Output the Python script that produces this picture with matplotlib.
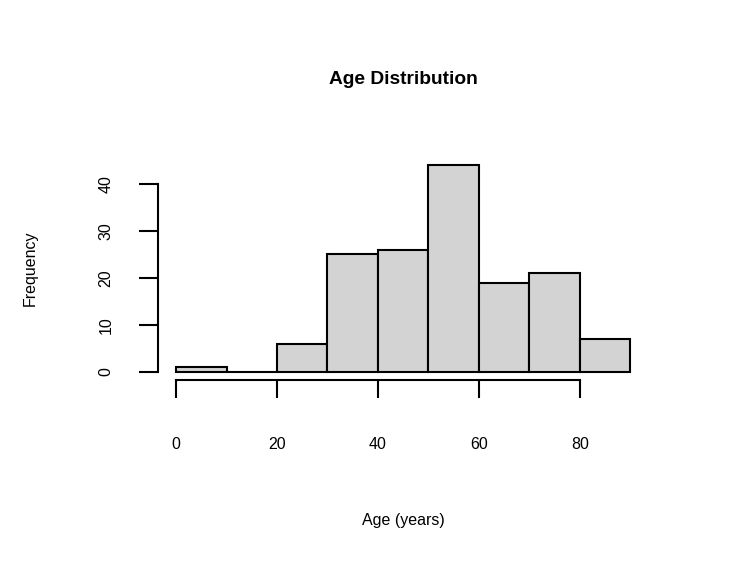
import matplotlib
matplotlib.use("Agg")
import matplotlib.pyplot as plt
import numpy as np

plt.rcParams['font.family'] = ['Liberation Sans', 'DejaVu Sans']

## histogram counts (10-year bins)
bin_edges = [0, 10, 20, 30, 40, 50, 60, 70, 80, 90]
counts = [1, 0, 6, 25, 26, 44, 19, 21, 7]
x_ticks = [0, 20, 40, 60, 80]
y_ticks = [0, 10, 20, 30, 40]

fig = plt.figure(figsize=(7.29, 5.76), dpi=100)
W, H = 729, 576
# R-style plot region (pixels)
left, right, top, bottom = 157.9, 648.5, 156.9, 380.3
ax = fig.add_axes([left / W, 1 - bottom / H, (right - left) / W, (bottom - top) / H])

lefts = np.array(bin_edges[:-1])
widths = np.diff(bin_edges)
ax.bar(lefts, counts, width=widths, align='edge', color='#d3d3d3',
       edgecolor='black', linewidth=1.5)

ax.set_xlim(-3.6, 93.6)
ax.set_ylim(-1.76, 45.76)

for s in ['top', 'right']:
    ax.spines[s].set_visible(False)
ax.spines['left'].set_bounds(0, 40)
ax.spines['bottom'].set_bounds(0, 80)
ax.spines['left'].set_linewidth(1.5)
ax.spines['bottom'].set_linewidth(1.5)

base = 11.5
ax.set_xticks(x_ticks)
ax.set_yticks(y_ticks)
ax.tick_params(axis='x', length=13, width=1.5, pad=28, labelsize=base)
ax.tick_params(axis='y', length=14, width=1.5, pad=18, labelsize=base,
               labelrotation=90)
for lbl in ax.get_yticklabels():
    lbl.set_verticalalignment('center')

fig.text(403 / W, 1 - 79.5 / H, 'Age Distribution', ha='center', va='center',
         fontsize=base * 1.2, fontweight='bold')
fig.text(403 / W, 1 - 521 / H, 'Age (years)', ha='center', va='center',
         fontsize=base)
fig.text(30 / W, 1 - 268 / H, 'Frequency', ha='center', va='center',
         fontsize=base, rotation=90)

fig.savefig('out.png', dpi=100)
